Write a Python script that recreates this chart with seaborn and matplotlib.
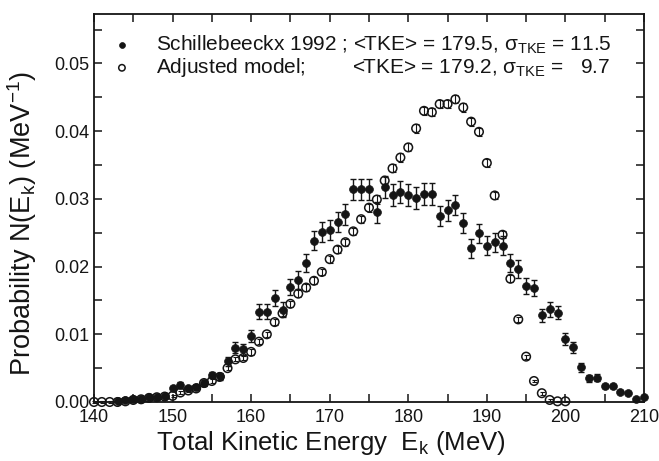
import matplotlib
matplotlib.use("Agg")
import matplotlib.pyplot as plt
from matplotlib.ticker import MultipleLocator, FormatStrFormatter
import seaborn as sns
import numpy as np

# Schillebeeckx 1992 data (solid points)
e_exp = list(range(143, 211))
n_exp = [0.0002, 0.0003, 0.0005, 0.0005, 0.0007, 0.0007, 0.0009, 0.0020,
         0.0025, 0.0020, 0.0022, 0.0028, 0.0040, 0.0038, 0.0060, 0.0080,
         0.0078, 0.0097, 0.0133, 0.0133, 0.0154, 0.0136, 0.0170, 0.0180,
         0.0205, 0.0238, 0.0251, 0.0254, 0.0266, 0.0277, 0.0314, 0.0314,
         0.0314, 0.0280, 0.0318, 0.0306, 0.0310, 0.0306, 0.0301, 0.0307,
         0.0307, 0.0275, 0.0283, 0.0291, 0.0264, 0.0227, 0.0249, 0.0231,
         0.0236, 0.0231, 0.0205, 0.0196, 0.0171, 0.0168, 0.0128, 0.0137,
         0.0132, 0.0093, 0.0081, 0.0051, 0.0035, 0.0036, 0.0023, 0.0023,
         0.0015, 0.0014, 0.0004, 0.0008]
err_exp = [0.0001, 0.0001, 0.0002, 0.0002, 0.0002, 0.0002, 0.0003, 0.0004,
           0.0004, 0.0004, 0.0004, 0.0005, 0.0005, 0.0005, 0.0007, 0.0008,
           0.0008, 0.0009, 0.0011, 0.0011, 0.0012, 0.0011, 0.0012, 0.0013,
           0.0013, 0.0014, 0.0015, 0.0015, 0.0015, 0.0015, 0.0016, 0.0016,
           0.0016, 0.0015, 0.0016, 0.0016, 0.0016, 0.0016, 0.0016, 0.0016,
           0.0016, 0.0015, 0.0015, 0.0015, 0.0015, 0.0014, 0.0014, 0.0014,
           0.0014, 0.0014, 0.0013, 0.0013, 0.0012, 0.0012, 0.0010, 0.0011,
           0.0010, 0.0009, 0.0008, 0.0006, 0.0005, 0.0005, 0.0003, 0.0003,
           0.0002, 0.0002, 0.0001, 0.0001]

# Adjusted model (open points)
e_mod = list(range(140, 201))
n_mod = [0.0000, 0.0000, 0.0000, 0.0000, 0.0001, 0.0003, 0.0004, 0.0006,
         0.0007, 0.0008, 0.0009, 0.0014, 0.0017, 0.0020, 0.0028, 0.0031,
         0.0037, 0.0050, 0.0063, 0.0065, 0.0074, 0.0089, 0.0100, 0.0118,
         0.0131, 0.0145, 0.0160, 0.0169, 0.0179, 0.0192, 0.0211, 0.0225,
         0.0236, 0.0252, 0.0270, 0.0287, 0.0299, 0.0327, 0.0345, 0.0361,
         0.0376, 0.0404, 0.0430, 0.0428, 0.0440, 0.0440, 0.0447, 0.0435,
         0.0414, 0.0399, 0.0353, 0.0305, 0.0247, 0.0182, 0.0122, 0.0067,
         0.0031, 0.0013, 0.0003, 0.0001, 0.0001]
err_mod = [0.0001, 0.0001, 0.0001, 0.0001, 0.0001, 0.0001, 0.0002, 0.0002,
           0.0002, 0.0002, 0.0002, 0.0002, 0.0002, 0.0003, 0.0003, 0.0003,
           0.0003, 0.0003, 0.0003, 0.0003, 0.0004, 0.0004, 0.0004, 0.0004,
           0.0004, 0.0004, 0.0005, 0.0005, 0.0005, 0.0005, 0.0005, 0.0005,
           0.0005, 0.0005, 0.0005, 0.0006, 0.0006, 0.0006, 0.0006, 0.0006,
           0.0006, 0.0006, 0.0006, 0.0006, 0.0006, 0.0006, 0.0006, 0.0006,
           0.0006, 0.0006, 0.0006, 0.0005, 0.0005, 0.0005, 0.0004, 0.0003,
           0.0002, 0.0002, 0.0001, 0.0001, 0.0001]

lab_exp = "Schillebeeckx 1992 ; <TKE> = 179.5, σ$_{\\rm TKE}$ = 11.5"
lab_mod = "Adjusted model;        <TKE> = 179.2, σ$_{\\rm TKE}$ =   9.7"

sns.set_theme(style="ticks")
plt.rcParams["font.family"] = ["Liberation Sans", "DejaVu Sans"]
plt.rcParams["mathtext.fontset"] = "custom"
plt.rcParams["mathtext.rm"] = "Liberation Sans"
plt.rcParams["mathtext.it"] = "Liberation Sans:italic"

ink = "#151515"
fig = plt.figure(figsize=(6.59, 4.61), dpi=100)
ax = fig.add_axes([0.1426, 0.128, 0.8346, 0.8416])

ax.errorbar(e_exp, n_exp, yerr=err_exp, fmt="none", ecolor=ink,
            elinewidth=1.0, capsize=2.5, capthick=1.0, zorder=2, clip_on=False)
ax.errorbar(e_mod, n_mod, yerr=err_mod, fmt="none", ecolor=ink,
            elinewidth=0.8, capsize=1.8, capthick=0.8, zorder=2, clip_on=False)
sns.scatterplot(x=e_exp, y=n_exp, ax=ax, s=32, marker="o", facecolor=ink,
                edgecolor=ink, linewidth=0.5, label=lab_exp, zorder=3,
                clip_on=False)
sns.scatterplot(x=e_mod, y=n_mod, ax=ax, s=38, marker="o", facecolor="none",
                edgecolor=ink, linewidth=1.1, label=lab_mod, zorder=4,
                clip_on=False)

ax.set_xlim(140, 210)
ax.set_ylim(0, 0.0573)
ax.xaxis.set_major_locator(MultipleLocator(10))
ax.xaxis.set_minor_locator(MultipleLocator(5))
ax.yaxis.set_major_locator(MultipleLocator(0.01))
ax.yaxis.set_minor_locator(MultipleLocator(0.005))
ax.yaxis.set_major_formatter(FormatStrFormatter("%.2f"))
ax.tick_params(which="both", direction="in", top=True, right=True,
               length=6, width=1.1, color=ink, labelcolor=ink, labelsize=13)
ax.tick_params(axis="x", pad=5)
for sp in ax.spines.values():
    sp.set_linewidth(1.3)
    sp.set_color(ink)

ax.set_xlabel("Total Kinetic Energy  E$_{\\rm k}$ (MeV)", fontsize=18.5,
              color=ink)
ax.set_ylabel("Probability N(E$_{\\rm k}$) (MeV$^{-1}$)", fontsize=19.5,
              color=ink)
ax.xaxis.set_label_coords(0.43, -0.07)
ax.yaxis.set_label_coords(-0.1, 0.46)

leg = ax.legend(loc="upper left", bbox_to_anchor=(-0.006, 0.998), frameon=False,
                fontsize=15, handletextpad=1.05, markerscale=0.75,
                labelspacing=0.02, handlelength=1.2, labelcolor=ink)

fig.savefig("out.png", dpi=100)
